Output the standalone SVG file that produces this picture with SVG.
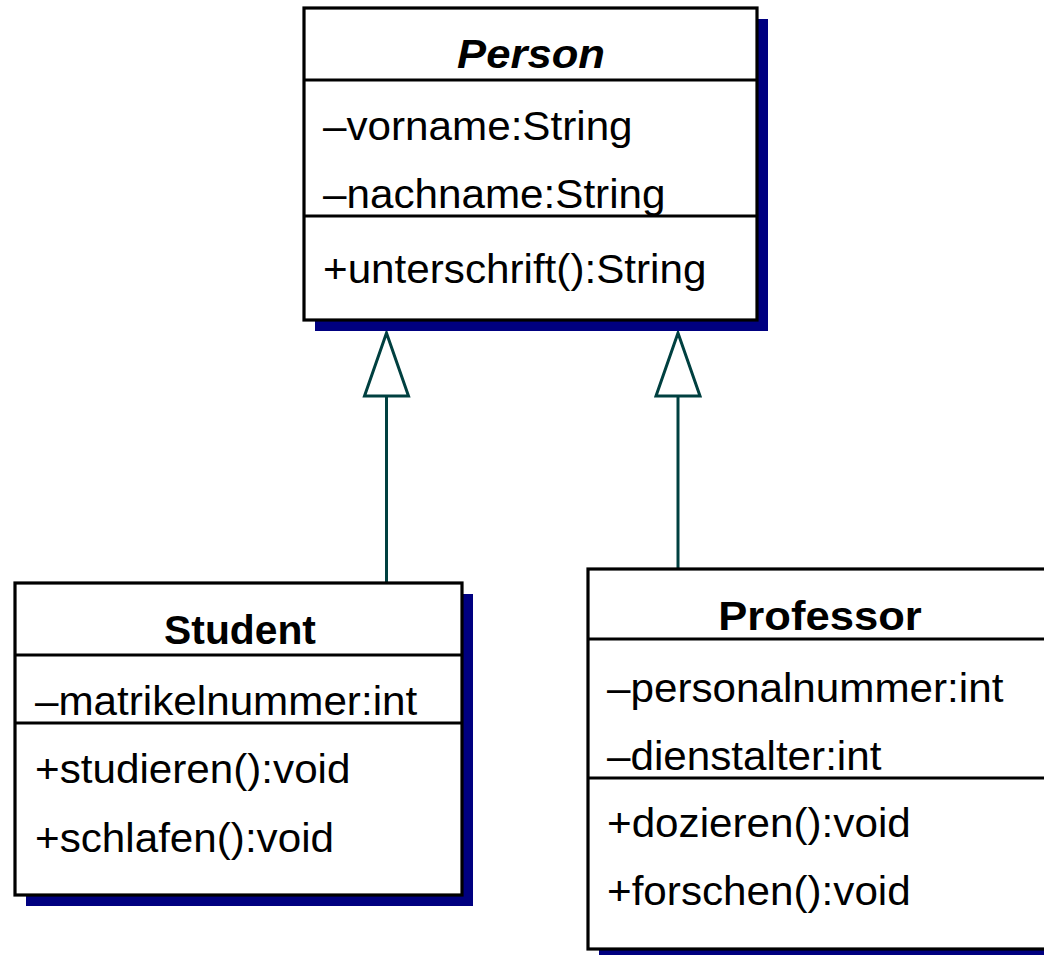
<svg xmlns="http://www.w3.org/2000/svg" width="1044" height="955" viewBox="0 0 1044 955">
  <style>
    .shadow { fill: #000080; }
    .box { fill: #ffffff; stroke: #000000; stroke-width: 3.2; }
    .sep { stroke: #000000; stroke-width: 3.2; fill: none; }
    .txt { font-family: "Liberation Sans", Arial, sans-serif; font-size: 40px; fill: #000000; }
    .title { font-family: "Liberation Sans", Arial, sans-serif; font-size: 40px; font-weight: bold; fill: #000000; text-anchor: middle; }
    .abstract { font-style: italic; }
    .gen { stroke: #004040; stroke-width: 3; fill: none; }
    .head { stroke: #004040; stroke-width: 3; fill: #ffffff; stroke-linejoin: miter; }
  </style>
  <rect width="1044" height="955" fill="#ffffff"/>

  <!-- generalization connectors -->
  <g id="connectors">
    <line class="gen" x1="386.5" y1="396" x2="386.5" y2="583"/>
    <polygon class="head" points="386.5,333 364.5,396 408.5,396"/>
    <line class="gen" x1="678" y1="396" x2="678" y2="569"/>
    <polygon class="head" points="678,333 656,396 700,396"/>
  </g>

  <!-- abstract base class -->
  <g id="person">
    <rect class="shadow" x="315" y="19" width="453" height="312"/>
    <rect class="box" x="304" y="8" width="453" height="312"/>
    <line class="sep" x1="304" y1="80" x2="757" y2="80"/>
    <line class="sep" x1="304" y1="216" x2="757" y2="216"/>
    <text class="title abstract" transform="translate(531 68) scale(1.09 1)">Person</text>
    <text class="txt" transform="translate(323 140) scale(1.055 1)">–vorname:String</text>
    <text class="txt" transform="translate(323 208) scale(1.055 1)">–nachname:String</text>
    <text class="txt" transform="translate(323 283) scale(1.055 1)">+unterschrift():String</text>
  </g>

  <g id="student">
    <rect class="shadow" x="26" y="594" width="447" height="312"/>
    <rect class="box" x="15" y="583" width="447" height="312"/>
    <line class="sep" x1="15" y1="655" x2="462" y2="655"/>
    <line class="sep" x1="15" y1="723" x2="462" y2="723"/>
    <text class="title" transform="translate(240 644) scale(1.02 1)">Student</text>
    <text class="txt" transform="translate(35 715) scale(1.055 1)">–matrikelnummer:int</text>
    <text class="txt" transform="translate(35 783) scale(1.055 1)">+studieren():void</text>
    <text class="txt" transform="translate(35 852) scale(1.055 1)">+schlafen():void</text>
  </g>

  <g id="professor">
    <rect class="shadow" x="599" y="580" width="470" height="380"/>
    <rect class="box" x="588" y="569" width="470" height="380"/>
    <line class="sep" x1="588" y1="639" x2="1058" y2="639"/>
    <line class="sep" x1="588" y1="778" x2="1058" y2="778"/>
    <text class="title" transform="translate(820 630) scale(1.09 1)">Professor</text>
    <text class="txt" transform="translate(607 702) scale(1.055 1)">–personalnummer:int</text>
    <text class="txt" transform="translate(607 770) scale(1.055 1)">–dienstalter:int</text>
    <text class="txt" transform="translate(607 837) scale(1.055 1)">+dozieren():void</text>
    <text class="txt" transform="translate(607 905) scale(1.055 1)">+forschen():void</text>
  </g>
</svg>
